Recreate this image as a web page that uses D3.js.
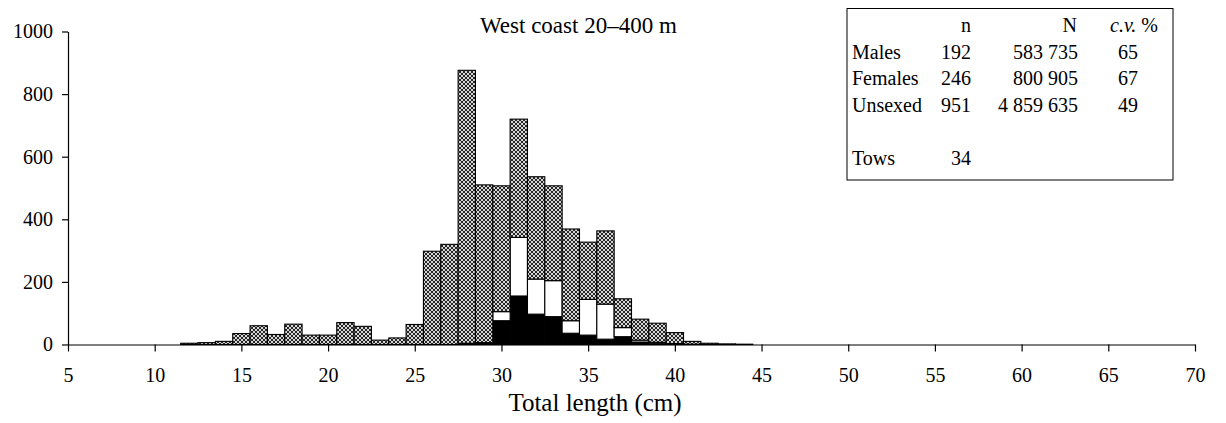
<!DOCTYPE html>
<html><head><meta charset="utf-8">
<script src="https://cdn.jsdelivr.net/npm/d3@7/dist/d3.min.js"></script>
<style>
body{margin:0;background:#fff}
svg{display:block}
text{font-family:"Liberation Serif","Times New Roman",serif;fill:#000}
</style>
</head><body>
<svg id="c" width="1226" height="423"></svg>
<script>
// Length classes (cm) and numbers at length for each sex group
const lengths  = [12,13,14,15,16,17,18,19,20,21,22,23,24,25,26,27,28,29,30,31,32,33,34,35,36,37,38,39,40,41,42,43,44];
const males    = [0,0,0,0,0,0,0,0,0,0,0,0,0,0,0,0,2,3,76,155,97,89,36,30,17,25,8,4,2,0,0,0,0];
const females  = [0,0,0,0,0,0,0,0,0,0,0,0,0,0,0,0,2,3,29,187,112,115,40,114,112,29,6,3,1,1,0,0,0];
const unsexed  = [4,6,10,35,60,32,65,30,30,70,58,14,21,64,298,320,872,504,402,378,327,303,293,183,234,92,67,61,35,9,4,2,1];
const xTicks = [5,10,15,20,25,30,35,40,45,50,55,60,65,70];
const yTicks = [0,200,400,600,800,1000];
const titleText = "West coast 20\u2013400 m";
const xTitle = "Total length (cm)";
const statRows = [
  ["Males","192","583 735","65"],
  ["Females","246","800 905","67"],
  ["Unsexed","951","4 859 635","49"]
];
const towsRow = ["Tows","34"];

const svg = d3.select("#c");
const x = d3.scaleLinear().domain([5,70]).range([68,1195]);
const y = d3.scaleLinear().domain([0,1000]).range([344.5,31.5]);

// hatch pattern
const defs = svg.append("defs");
const pat = defs.append("pattern").attr("id","hatch").attr("patternUnits","userSpaceOnUse")
  .attr("width",4).attr("height",4);
pat.append("rect").attr("width",4).attr("height",4).attr("fill","#d6d6d6");
pat.append("path").attr("d","M0,0L4,4M4,0L0,4M-1,3L1,5M3,-1L5,1M3,5L5,3M-1,1L1,-1")
  .attr("stroke","#262626").attr("stroke-width",1);

const table = lengths.map((L,i)=>({L, males:males[i], females:females[i], unsexed:unsexed[i]}));
const keys = ["males","females","unsexed"];
const fills = {males:"#000", females:"#fff", unsexed:"url(#hatch)"};
const series = d3.stack().keys(keys)(table);

const g = svg.append("g");
series.forEach(s=>{
  g.append("g").selectAll("rect").data(s.filter(d=>d[1]-d[0]>0)).join("rect")
    .attr("x",d=>x(d.data.L-0.5))
    .attr("width",d=>x(d.data.L+0.5)-x(d.data.L-0.5))
    .attr("y",d=>y(d[1]))
    .attr("height",d=>y(d[0])-y(d[1]))
    .attr("fill",fills[s.key])
    .attr("stroke","#000").attr("stroke-width",1.1);
});

// axes
const ya = svg.append("g").attr("transform","translate(68,0)")
  .call(d3.axisLeft(y).tickValues(yTicks).tickSize(6).tickSizeOuter(0).tickPadding(9).tickFormat(d3.format("d")));
const xa = svg.append("g").attr("transform","translate(0,344.5)")
  .call(d3.axisBottom(x).tickValues(xTicks).tickSize(7).tickSizeOuter(0).tickPadding(16).tickFormat(d3.format("d")));
[ya,xa].forEach(a=>{
  a.attr("font-family",null);
  a.selectAll("path,line").attr("stroke","#000").attr("stroke-width",1.2);
  a.selectAll("text").attr("font-size",20).attr("fill","#000");
});

// titles
svg.append("text").attr("x",480).attr("y",33).attr("font-size",23).text(titleText);
svg.append("text").attr("x",595).attr("y",411).attr("text-anchor","middle").attr("font-size",25).text(xTitle);

// stats box
const bx = svg.append("g");
bx.append("rect").attr("x",847).attr("y",8.5).attr("width",326).attr("height",171.5)
  .attr("fill","#fff").attr("stroke","#000").attr("stroke-width",1);
const fs = 20;
bx.append("text").attr("x",971).attr("y",31.5).attr("text-anchor","end").attr("font-size",fs).text("n");
bx.append("text").attr("x",1077).attr("y",31.5).attr("text-anchor","end").attr("font-size",fs).text("N");
const cv = bx.append("text").attr("x",1158).attr("y",31.5).attr("text-anchor","end").attr("font-size",fs);
cv.append("tspan").attr("font-style","italic").text("c.v.");
cv.append("tspan").text(" %");
const rowY = [58.5,85,111.5];
statRows.forEach((r,i)=>{
  bx.append("text").attr("x",852).attr("y",rowY[i]).attr("font-size",fs).text(r[0]);
  bx.append("text").attr("x",971).attr("y",rowY[i]).attr("text-anchor","end").attr("font-size",fs).text(r[1]);
  bx.append("text").attr("x",1078).attr("y",rowY[i]).attr("text-anchor","end").attr("font-size",fs).text(r[2]);
  bx.append("text").attr("x",1128).attr("y",rowY[i]).attr("text-anchor","middle").attr("font-size",fs).text(r[3]);
});
bx.append("text").attr("x",852).attr("y",165).attr("font-size",fs).text(towsRow[0]);
bx.append("text").attr("x",971).attr("y",165).attr("text-anchor","end").attr("font-size",fs).text(towsRow[1]);
</script>
</body></html>
